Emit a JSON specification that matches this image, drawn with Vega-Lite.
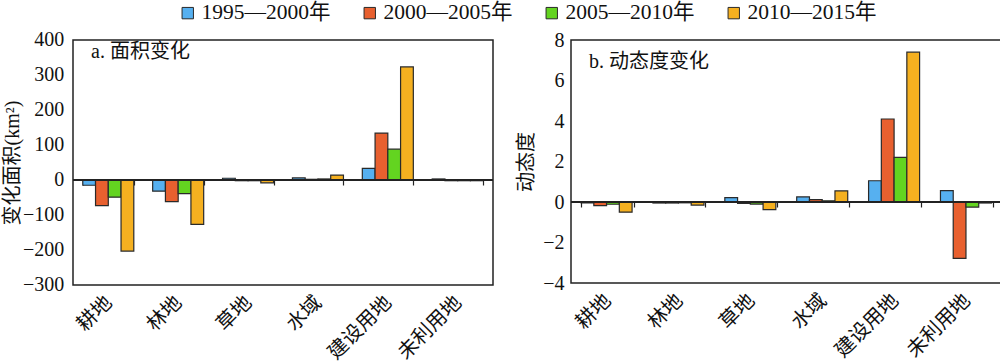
{
  "$schema": "https://vega.github.io/schema/vega-lite/v6.json",
  "padding": {"top": 2, "left": 1, "right": 1, "bottom": 0},
  "background": "white",
  "datasets": {
    "ticksA": [{"tick": -300}, {"tick": -200}, {"tick": -100}, {"tick": 0}, {"tick": 100}, {"tick": 200}, {"tick": 300}, {"tick": 400}]
  },
  "data": {"values": [
    {"type": "耕地", "period": "1995—2000年", "area": -15, "dyn": -0.04},
    {"type": "耕地", "period": "2000—2005年", "area": -73, "dyn": -0.18},
    {"type": "耕地", "period": "2005—2010年", "area": -49, "dyn": -0.11},
    {"type": "耕地", "period": "2010—2015年", "area": -203, "dyn": -0.5},
    {"type": "林地", "period": "1995—2000年", "area": -32, "dyn": -0.05},
    {"type": "林地", "period": "2000—2005年", "area": -62, "dyn": -0.05},
    {"type": "林地", "period": "2005—2010年", "area": -39, "dyn": -0.04},
    {"type": "林地", "period": "2010—2015年", "area": -127, "dyn": -0.15},
    {"type": "草地", "period": "1995—2000年", "area": 5, "dyn": 0.22},
    {"type": "草地", "period": "2000—2005年", "area": -2, "dyn": -0.07},
    {"type": "草地", "period": "2005—2010年", "area": -2, "dyn": -0.1},
    {"type": "草地", "period": "2010—2015年", "area": -8, "dyn": -0.38},
    {"type": "水域", "period": "1995—2000年", "area": 6, "dyn": 0.25},
    {"type": "水域", "period": "2000—2005年", "area": 2, "dyn": 0.12},
    {"type": "水域", "period": "2005—2010年", "area": 3, "dyn": 0.06},
    {"type": "水域", "period": "2010—2015年", "area": 14, "dyn": 0.55},
    {"type": "建设用地", "period": "1995—2000年", "area": 33, "dyn": 1.05},
    {"type": "建设用地", "period": "2000—2005年", "area": 134, "dyn": 4.1},
    {"type": "建设用地", "period": "2005—2010年", "area": 88, "dyn": 2.2},
    {"type": "建设用地", "period": "2010—2015年", "area": 323, "dyn": 7.4},
    {"type": "未利用地", "period": "1995—2000年", "area": 3, "dyn": 0.56},
    {"type": "未利用地", "period": "2000—2005年", "area": -2, "dyn": -2.78},
    {"type": "未利用地", "period": "2005—2010年", "area": -2, "dyn": -0.25},
    {"type": "未利用地", "period": "2010—2015年", "area": -2, "dyn": -0.05}
  ]},
  "spacing": 20,
  "hconcat": [
    {
      "width": 420,
      "height": 245,
      "layer": [
        {
          "mark": {"type": "bar", "stroke": "#2a2a2a", "strokeWidth": 1.2},
          "encoding": {
            "x": {"field": "type", "type": "nominal", "sort": null,
              "scale": {"paddingInner": 0.27, "paddingOuter": 0.14},
              "axis": {"title": null, "orient": "bottom", "offset": -105, "labelAngle": -45, "labelOffset": -7, "domain": false, "ticks": true, "tickBand": "extent", "tickSize": 5, "tickColor": "#222", "tickWidth": 1.2, "labelPadding": 107}},
            "xOffset": {"field": "period", "type": "nominal", "sort": null},
            "y": {"field": "area", "type": "quantitative",
              "scale": {"domain": [-300, 400], "nice": false, "zero": false},
              "axis": {"title": "变化面积(km²)", "values": [-300, -200, -100, 0, 100, 200, 300, 400], "labels": false, "ticks": false, "domain": false, "grid": false, "titlePadding": 51}},
            "color": {"field": "period", "type": "nominal", "sort": null,
              "scale": {"domain": ["1995—2000年", "2000—2005年", "2005—2010年", "2010—2015年"], "range": ["#56B0F0", "#E8602F", "#63D420", "#F5B020"]},
              "legend": {"title": null, "orient": "none", "direction": "horizontal", "legendX": 104, "legendY": -38, "symbolType": "square", "symbolSize": 130, "symbolStrokeColor": "#222", "symbolStrokeWidth": 1, "symbolOpacity": 1, "labelFontSize": 21.5, "labelOffset": 3, "columnPadding": 28}}
          }
        },
        {
          "mark": {"type": "rule", "color": "#222", "strokeWidth": 1.2},
          "encoding": {"y": {"datum": 0, "type": "quantitative"}}
        },
        {
          "data": {"name": "ticksA"},
          "mark": {"type": "text", "align": "right", "baseline": "middle", "dx": -44, "fontSize": 20, "color": "#111"},
          "encoding": {
            "x": {"datum": "耕地"},
            "y": {"field": "tick", "type": "quantitative"},
            "text": {"field": "tick", "type": "quantitative"}
          }
        }
      ],
      "title": {"text": "a. 面积变化", "anchor": "start", "frame": "group", "fontSize": 20, "fontWeight": "normal", "color": "#111", "dx": 18, "dy": 22, "offset": -20, "baseline": "middle"}
    },
    {
      "width": 432,
      "height": 243,
      "layer": [
        {
          "mark": {"type": "bar", "stroke": "#2a2a2a", "strokeWidth": 1.2},
          "encoding": {
            "x": {"field": "type", "type": "nominal", "sort": null,
              "scale": {"paddingInner": 0.27, "paddingOuter": 0.14},
              "axis": {"title": null, "orient": "bottom", "offset": -81, "labelAngle": -45, "labelOffset": -7, "domain": false, "ticks": true, "tickBand": "extent", "tickSize": 5, "tickColor": "#222", "tickWidth": 1.2, "labelPadding": 83}},
            "xOffset": {"field": "period", "type": "nominal", "sort": null},
            "y": {"field": "dyn", "type": "quantitative",
              "scale": {"domain": [-4, 8], "nice": false, "zero": false},
              "axis": {"title": "动态度", "values": [-4, -2, 0, 2, 4, 6, 8], "labelOverlap": false, "ticks": false, "domain": false, "grid": false, "labelPadding": 7, "titlePadding": 6}},
            "color": {"field": "period", "type": "nominal", "sort": null}
          }
        },
        {
          "mark": {"type": "rule", "color": "#222", "strokeWidth": 1.2},
          "encoding": {"y": {"datum": 0, "type": "quantitative"}}
        }
      ],
      "title": {"text": "b. 动态度变化", "anchor": "start", "frame": "group", "fontSize": 20, "fontWeight": "normal", "color": "#111", "dx": 18, "dy": 32, "offset": -20, "baseline": "middle"}
    }
  ],
  "config": {
    "font": "Liberation Serif, Noto Sans CJK SC",
    "view": {"stroke": "#222", "strokeWidth": 1.5},
    "title": {"font": "Liberation Serif, Noto Sans CJK SC"},
    "text": {"font": "Liberation Serif, Noto Sans CJK SC"},
    "axis": {"labelFont": "Liberation Serif, Noto Sans CJK SC", "labelFontSize": 20, "labelColor": "#111", "titleFont": "Liberation Serif, Noto Sans CJK SC", "titleFontSize": 20, "titleFontWeight": "normal", "titleColor": "#111"},
    "legend": {"labelFont": "Liberation Serif, Noto Sans CJK SC", "labelColor": "#111"}
  }
}
